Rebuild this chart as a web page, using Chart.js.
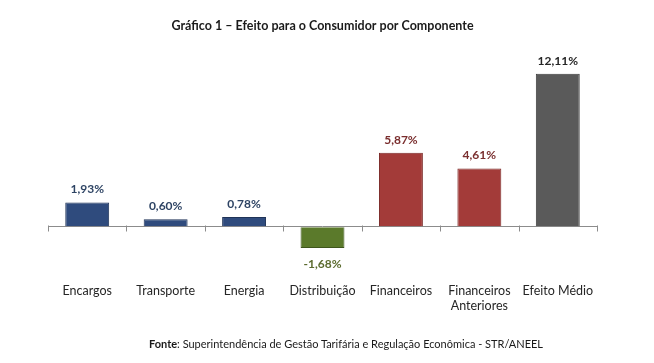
<!DOCTYPE html>
<html>
<head>
<meta charset="utf-8">
<script src="https://cdn.jsdelivr.net/npm/chart.js@4/dist/chart.umd.min.js"></script>
<style>
  html, body { margin: 0; padding: 0; background: #ffffff; }
  #wrap { position: relative; width: 654px; height: 363px; }
  #footer { position: absolute; left: 0; top: 337px; width: 692px; text-align: center;
            font-family: Lato, "Open Sans", sans-serif; font-size: 11px; color: #1a1a1a; }
</style>
</head>
<body>
<div id="wrap">
  <canvas id="c" width="654" height="363"></canvas>
  <div id="footer"><b>Fonte</b>: Superintendência de Gestão Tarifária e Regulação Econômica - STR/ANEEL</div>
</div>
<script>
const categories = ["Encargos", "Transporte", "Energia", "Distribuição", "Financeiros", ["Financeiros", "Anteriores"], "Efeito Médio"];
const values = [1.93, 0.60, 0.78, -1.68, 5.87, 4.61, 12.11];
const valueLabels = ["1,93%", "0,60%", "0,78%", "-1,68%", "5,87%", "4,61%", "12,11%"];
const barColors = ["#2f4b7d", "#2f4b7d", "#2f4b7d", "#5b7a2b", "#a33b39", "#a33b39", "#5a5a5a"];
const borderColors = ["#1f3357", "#1f3357", "#1f3357", "#3e561c", "#7a2826", "#7a2826", "#3c3c3c"];
const labelColors = ["#2e4464", "#2e4464", "#2e4464", "#5b6b2e", "#7a2e2e", "#7a2e2e", "#262626"];
const titleText = "Gráfico 1 – Efeito para o Consumidor por Componente";

const FONT = "Lato, 'Open Sans', sans-serif";

const valueLabelPlugin = {
  id: 'valueLabels',
  afterDatasetsDraw(chart) {
    const ctx = chart.ctx;
    const meta = chart.getDatasetMeta(0);
    ctx.save();
    ctx.font = "bold 12px " + FONT;
    ctx.textAlign = 'center';
    ctx.textBaseline = 'middle';
    meta.data.forEach((bar, i) => {
      const v = values[i];
      ctx.fillStyle = labelColors[i];
      const y = v >= 0 ? bar.y - 13 : bar.y + 16;
      ctx.fillText(valueLabels[i], bar.x, y);
    });
    ctx.restore();
  }
};

const axisTickPlugin = {
  id: 'axisTicks',
  beforeDatasetsDraw(chart) {
    const ctx = chart.ctx;
    const xs = chart.scales.x;
    const ys = chart.scales.y;
    const y0 = Math.round(ys.getPixelForValue(0)) + 0.5;
    const n = categories.length;
    ctx.save();
    ctx.strokeStyle = '#8c8c8c';
    ctx.lineWidth = 1;
    ctx.beginPath();
    for (let i = 0; i <= n; i++) {
      const x = Math.round(xs.left + (xs.right - xs.left) * i / n) + 0.5;
      ctx.moveTo(x, y0 - 2);
      ctx.lineTo(x, y0 + 4);
    }
    ctx.stroke();
    ctx.restore();
  }
};

new Chart(document.getElementById('c'), {
  type: 'bar',
  data: {
    labels: categories,
    datasets: [{
      data: values,
      backgroundColor: barColors,
      borderColor: borderColors,
      borderWidth: 1,
      barPercentage: 0.56,
      categoryPercentage: 1.0
    }]
  },
  options: {
    responsive: false,
    animation: false,
    devicePixelRatio: 1,
    layout: { padding: { left: 48, right: 57, top: 0, bottom: 27 } },
    plugins: {
      legend: { display: false },
      tooltip: { enabled: false },
      title: {
        display: true,
        text: titleText,
        color: '#1a1a1a',
        font: { family: FONT, size: 12.5, weight: 'bold' },
        padding: { top: 18, bottom: 17 }
      }
    },
    scales: {
      x: {
        grid: { display: false },
        border: { display: false },
        ticks: {
          color: '#262626',
          font: { family: FONT, size: 12.5 },
          padding: 23,
          maxRotation: 0,
          autoSkip: false
        }
      },
      y: {
        min: -2,
        max: 14,
        ticks: { display: false, stepSize: 2 },
        border: { display: false },
        grid: {
          drawTicks: false,
          color: (c) => (c.tick && c.tick.value === 0 ? '#8c8c8c' : 'rgba(0,0,0,0)'),
          lineWidth: 1
        }
      }
    }
  },
  plugins: [valueLabelPlugin, axisTickPlugin]
});
</script>
</body>
</html>
